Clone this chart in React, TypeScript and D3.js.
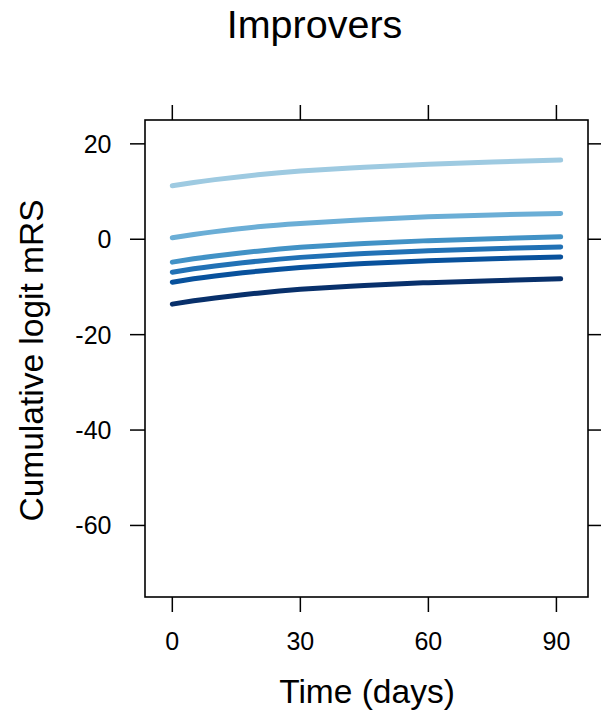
import React from "react";
import * as d3 from "d3";

const days = [0, 5, 10, 20, 30, 45, 60, 75, 91];
const series1 = [11.2, 11.9, 12.5, 13.5, 14.3, 15.1, 15.7, 16.2, 16.6];
const series2 = [0.3, 1.0, 1.6, 2.6, 3.3, 4.1, 4.7, 5.1, 5.4];
const series3 = [-4.8, -4.1, -3.5, -2.5, -1.7, -0.9, -0.3, 0.1, 0.5];
const series4 = [-6.9, -6.2, -5.6, -4.6, -3.8, -3.0, -2.4, -2.0, -1.6];
const series5 = [-9.0, -8.3, -7.7, -6.7, -5.9, -5.1, -4.5, -4.1, -3.7];
const series6 = [-13.6, -12.9, -12.3, -11.3, -10.5, -9.7, -9.1, -8.7, -8.3];
const allSeries = [series1, series2, series3, series4, series5, series6];
const colors = ["#9ecae1", "#6baed6", "#4292c6", "#2171b5", "#08519c", "#08306b"];
const xTicks = [0, 30, 60, 90];
const yTicks = [20, 0, -20, -40, -60];

export default function App() {
  const W = 601, H = 717;
  const left = 145, right = 588, top = 120, bottom = 597;
  const x = d3.scaleLinear().domain([-6.4, 97.4]).range([left, right]);
  const y = d3.scaleLinear().domain([-75, 25]).range([bottom, top]);
  const line = d3
    .line<number>()
    .x((_, i) => x(days[i]))
    .y((d) => y(d))
    .curve(d3.curveNatural);
  const font = "'Liberation Sans', Arial, sans-serif";
  const tl = 15;
  return (
    <svg width={W} height={H} style={{ position: "absolute", left: 0, top: 0, background: "#fff" }} fontFamily={font}>
      <rect x={0} y={0} width={W} height={H} fill="#fff" />
      <text x={314.5} y={37.5} fontSize={39.5} textAnchor="middle" fill="#000">Improvers</text>
      {allSeries.map((s, i) => (
        <path key={i} d={line(s) || ""} fill="none" stroke={colors[i]} strokeWidth={5} strokeLinecap="round" strokeLinejoin="round" />
      ))}
      <rect x={left} y={top} width={right - left} height={bottom - top} fill="none" stroke="#000" strokeWidth={1.6} />
      {xTicks.map((t) => (
        <g key={"x" + t}>
          <line x1={x(t)} x2={x(t)} y1={bottom} y2={bottom + tl} stroke="#000" strokeWidth={1.5} />
          <line x1={x(t)} x2={x(t)} y1={top} y2={top - tl} stroke="#000" strokeWidth={1.5} />
          <text x={x(t)} y={650} fontSize={25} textAnchor="middle" fill="#000">{t}</text>
        </g>
      ))}
      {yTicks.map((t) => (
        <g key={"y" + t}>
          <line x1={left} x2={left - tl} y1={y(t)} y2={y(t)} stroke="#000" strokeWidth={1.5} />
          <line x1={right} x2={right + tl} y1={y(t)} y2={y(t)} stroke="#000" strokeWidth={1.5} />
          <text x={111.5} y={y(t) + 9} fontSize={25} textAnchor="end" fill="#000">{t}</text>
        </g>
      ))}
      <text x={367} y={702.5} fontSize={33.5} textAnchor="middle" fill="#000">Time (days)</text>
      <text transform={`translate(42.5, ${(top + bottom) / 2 + 2}) rotate(-90)`} fontSize={33.5} textAnchor="middle" fill="#000">Cumulative logit mRS</text>
    </svg>
  );
}
